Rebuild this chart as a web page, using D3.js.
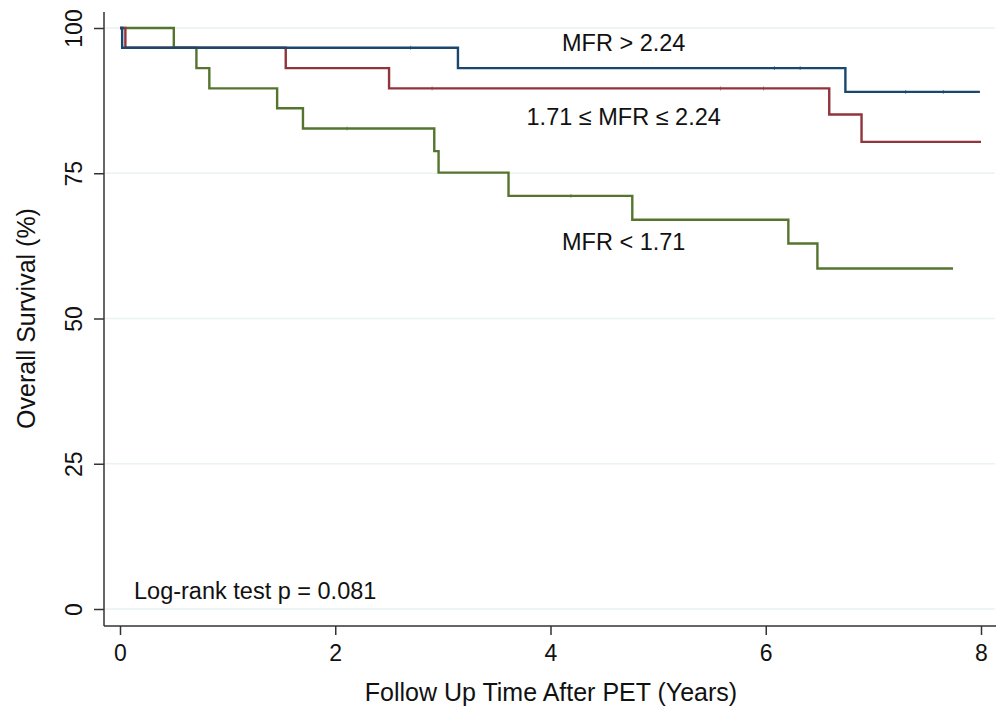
<!DOCTYPE html>
<html lang="en">
<head>
    <meta charset="UTF-8">
    <title>Overall Survival by MFR</title>
    <style>
        body { margin: 0; background: #fff; }
        svg { font-family: "Liberation Sans", Arial, Helvetica, sans-serif; }
        .tick text { font-size: 23px; fill: #111; }
        .axis-title { font-size: 25px; fill: #111; }
        .curve-label { font-size: 23.5px; fill: #111; }
    </style>
</head>
<body>
    <svg id="chart" width="997" height="713"></svg>

    <script src="https://d3js.org/d3.v7.min.js"></script>
    <script>
        // Tick labels
        const xTicks = [0, 2, 4, 6, 8];
        const yTicks = [0, 25, 50, 75, 100];

        // Kaplan-Meier steps (time in years, survival in %)
        const highTimes = [0, 0.02, 3.14, 6.74, 7.99];
        const highSurv  = [100, 96.6, 93.1, 89.0, 89.0];
        const highCensor = [2.70, 6.08, 6.32, 7.30, 7.65];

        const midTimes = [0, 0.05, 1.54, 2.50, 6.59, 6.89, 8.00];
        const midSurv  = [100, 96.6, 93.1, 89.6, 85.1, 80.4, 80.4];
        const midCensor = [2.90, 5.58, 5.98];

        const lowTimes = [0, 0.50, 0.71, 0.83, 1.46, 1.70, 2.92, 2.96, 3.61, 4.76, 6.21, 6.48, 7.74];
        const lowSurv  = [100, 96.6, 93.1, 89.6, 86.2, 82.7, 78.8, 75.1, 71.1, 67.0, 62.9, 58.6, 58.6];
        const lowCensor = [2.11, 4.19];

        const groupNames = ["MFR > 2.24", "1.71 \u2264 MFR \u2264 2.24", "MFR < 1.71"];
        const groupColors = ["#1a476f", "#90353b", "#55752f"];

        const groups = [
            { name: groupNames[0], color: groupColors[0], times: highTimes, surv: highSurv, censor: highCensor, labelT: 4.68, labelS: 97.5 },
            { name: groupNames[1], color: groupColors[1], times: midTimes, surv: midSurv, censor: midCensor, labelT: 4.68, labelS: 84.8 },
            { name: groupNames[2], color: groupColors[2], times: lowTimes, surv: lowSurv, censor: lowCensor, labelT: 4.68, labelS: 63.2 }
        ];

        const svg = d3.select("#chart");

        // Plot area
        const x = d3.scaleLinear().domain([0, 8]).range([120, 981]);
        const y = d3.scaleLinear().domain([0, 100]).range([609, 28]);
        const axisX = 104, axisY = 626;

        // Gridlines
        svg.append("g")
            .selectAll("line")
            .data(yTicks)
            .enter().append("line")
            .attr("x1", axisX + 1)
            .attr("x2", 995)
            .attr("y1", d => y(d))
            .attr("y2", d => y(d))
            .attr("stroke", "#eaf2f3")
            .attr("stroke-width", 1.5);

        // Y axis
        const yAxis = svg.append("g")
            .attr("transform", "translate(" + axisX + ",0)")
            .call(d3.axisLeft(y).tickValues(yTicks).tickSize(10).tickPadding(14));
        yAxis.select(".domain").remove();
        yAxis.selectAll(".tick line").attr("stroke", "#333").attr("stroke-width", 1.5);
        yAxis.selectAll(".tick text")
            .attr("transform", "rotate(-90)")
            .attr("x", 0)
            .attr("y", -30)
            .attr("dy", "0.35em")
            .attr("text-anchor", "middle");

        // X axis
        const xAxis = svg.append("g")
            .attr("transform", "translate(0," + axisY + ")")
            .call(d3.axisBottom(x).tickValues(xTicks).tickSize(9).tickPadding(10));
        xAxis.select(".domain").remove();
        xAxis.selectAll(".tick line").attr("stroke", "#333").attr("stroke-width", 1.5);

        // Axis lines
        svg.append("line")
            .attr("x1", axisX).attr("x2", axisX)
            .attr("y1", 12).attr("y2", axisY)
            .attr("stroke", "#333").attr("stroke-width", 1.5);
        svg.append("line")
            .attr("x1", axisX).attr("x2", 996)
            .attr("y1", axisY).attr("y2", axisY)
            .attr("stroke", "#333").attr("stroke-width", 1.5);

        // Axis titles
        svg.append("text")
            .attr("class", "axis-title")
            .attr("text-anchor", "middle")
            .attr("x", 551)
            .attr("y", 701)
            .text("Follow Up Time After PET (Years)");

        svg.append("text")
            .attr("class", "axis-title")
            .attr("text-anchor", "middle")
            .attr("transform", "translate(35," + (y(50)) + ") rotate(-90)")
            .text("Overall Survival (%)");

        // Survival curves
        const line = d3.line()
            .x(d => x(d[0]))
            .y(d => y(d[1]))
            .curve(d3.curveStepAfter);

        // Draw in reverse so the blue curve sits on top at the start
        groups.slice().reverse().forEach(g => {
            const pts = g.times.map((t, i) => [t, g.surv[i]]);
            svg.append("path")
                .datum(pts)
                .attr("fill", "none")
                .attr("stroke", g.color)
                .attr("stroke-width", 2.4)
                .attr("d", line);

            // censor marks
            const survAt = t => {
                let s = g.surv[0];
                g.times.forEach((tt, i) => { if (tt <= t) s = g.surv[i]; });
                return s;
            };
            svg.append("g")
                .selectAll("line")
                .data(g.censor)
                .enter().append("line")
                .attr("x1", d => x(d))
                .attr("x2", d => x(d))
                .attr("y1", d => y(survAt(d)) - 2)
                .attr("y2", d => y(survAt(d)) + 2)
                .attr("stroke", g.color)
                .attr("stroke-opacity", 0.6)
                .attr("stroke-width", 1);
        });

        // Curve labels
        svg.append("g")
            .selectAll("text")
            .data(groups)
            .enter().append("text")
            .attr("class", "curve-label")
            .attr("text-anchor", "middle")
            .attr("x", d => x(d.labelT))
            .attr("y", d => y(d.labelS))
            .attr("dy", "0.35em")
            .text(d => d.name);

        svg.append("text")
            .attr("class", "curve-label")
            .attr("x", 134)
            .attr("y", 599)
            .text("Log-rank test p = 0.081");
    </script>
</body>
</html>
